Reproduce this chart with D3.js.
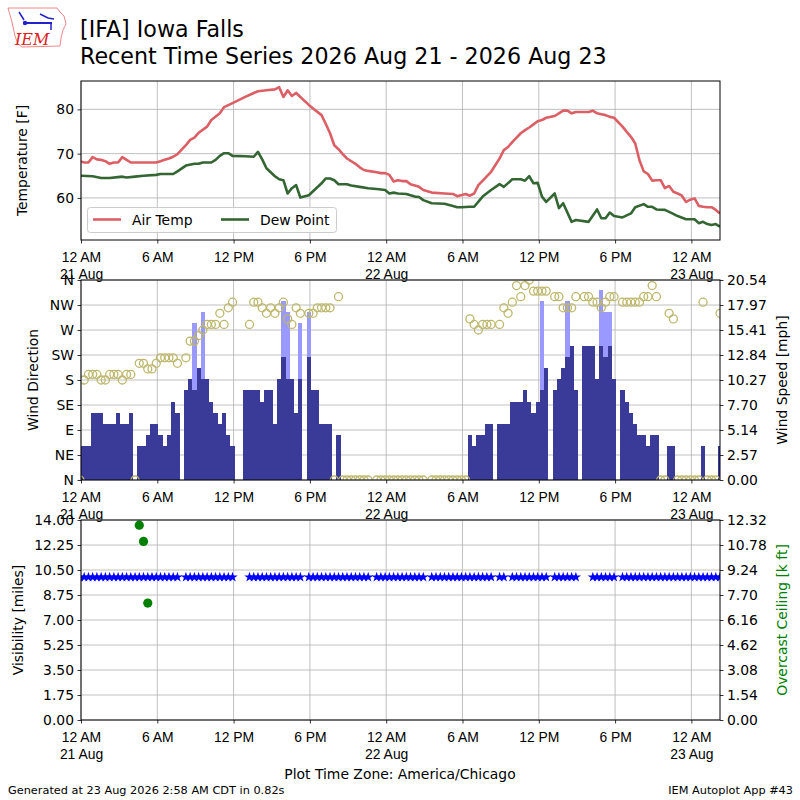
<!DOCTYPE html>
<html>
<head>
<meta charset="utf-8">
<script src="https://cdn.jsdelivr.net/npm/d3@7"></script>
<style>
  body { margin: 0; background: #fff; }
  svg { font-family: "DejaVu Sans", sans-serif; }
</style>
</head>
<body>
<svg id="chart" width="800" height="800"></svg>
<script>
// obs are every 20 minutes starting 23:55 on 20 Aug (index k)
const obsStart = Date.UTC(2026, 7, 20, 23, 55);
const obsStep = 20 * 60000;

// wind speed [kt], null = no report
const windKnots = [
  3, 3, 3, 6, 6, 6, 5, 5, 5, 6, 5, 5,
  6, 0, 3, 3, 4, 5, 5, 4, 3, 4, 7, 6,
  null, 8, 9, 8, 10, 9, 9, 7, 6, 5, 6, 4,
  3, null, null, 8, 8, 8, 8, 7, 8, 8, 5, 9,
  11, 9, 9, 6, 9, null, 11, 8, 8, 5, 5, 5,
  0, 4, 0, 0, 0, 0, 0, 0, 0, null, 0, 0,
  0, 0, 0, 0, 0, 0, 0, 0, 0, 0, null, 0,
  0, 0, 0, 0, 0, 0, 0, 0, 4, 3, 4, 4,
  5, 5, null, 5, 5, 5, 7, 7, 7, 8, 7, 6,
  7, 8, 10, null, 8, 9, 10, 11, 12, 8, null, 12,
  12, 12, 9, 12, 11, 12, 9, null, 8, 7, 6, 5,
  4, 4, 3, 4, 4, 0, 0, 3, 3, 0, 0, 0,
  0, 0, 0, 3, 0, 0, 0, 3
];

// gusts [kt] only where reported
const gustIndex = [27, 29, 48, 49, 52, 54, 109, 115, 123, 124, 125];
const gustKnots = [14, 15, 16, 15, 14, 15, 16, 16, 17, 15, 15];

// wind direction [deg]
const windDir = [
  0, 180, 190, 190, 190, 180, 180, 190, 190, 190, 180, 190,
  190, 0, 210, 210, 200, 200, 210, 220, 220, 220, 220, 210,
  null, 220, 250, 250, 260, 270, 280, 280, 280, 300, 280, 310,
  320, null, null, null, 280, 320, 320, 310, 300, 310, 300, 310,
  320, 290, 280, 310, 300, null, 300, 300, 310, 310, 310, 310,
  0, 330, 0, 0, 0, 0, 0, 0, 0, null, 0, 0,
  0, 0, 0, 0, 0, 0, 0, 0, 0, 0, null, 0,
  0, 0, 0, 0, 0, 0, 0, 0, 290, 280, 270, 280,
  280, 280, null, 280, 310, 300, 320, 350, 330, 350, 360, 340,
  340, 340, 340, null, 330, 330, 310, 310, 310, 330, null, 330,
  330, 320, 320, 310, 320, 330, 330, null, 320, 320, 320, 320,
  320, 330, 330, 350, 330, 0, 0, 300, 290, 0, 0, 0,
  0, 0, 0, 320, 0, 0, 0, 300
];

// visibility [miles]
const visMiles = [
  10, 10, 10, 10, 10, 10, 10, 10, 10, 10, 10, 10,
  10, 10, 10, 10, 10, 10, 10, 10, 10, 10, 10, 10,
  null, 10, 10, 10, 10, 10, 10, 10, 10, 10, 10, 10,
  10, null, null, null, 10, 10, 10, 10, 10, 10, 10, 10,
  10, 10, 10, 10, 10, null, 10, 10, 10, 10, 10, 10,
  10, 10, 10, 10, 10, 10, 10, 10, 10, null, 10, 10,
  10, 10, 10, 10, 10, 10, 10, 10, 10, 10, null, 10,
  10, 10, 10, 10, 10, 10, 10, 10, 10, 10, 10, 10,
  10, 10, null, 10, 10, null, 10, 10, 10, 10, 10, 10,
  10, 10, 10, null, 10, 10, 10, 10, 10, 10, null, null,
  null, 10, 10, 10, 10, 10, 10, null, 10, 10, 10, 10,
  10, 10, 10, 10, 10, 10, 10, 10, 10, 10, 10, 10,
  10, 10, 10, 10, 10, 10, 10, 10
];

// overcast ceiling [k ft]
const ceilIndex = [14, 15, 16];
const ceilKft = [12.0, 11.0, 7.2];

// air temp [F]
const tempIndex = [0, 1, 2, 3, 4, 5, 6, 7, 8, 9, 10, 11, 12, 18, 19, 20, 21, 22, 23, 25, 26, 27, 28, 30, 31, 33, 34, 36,
  39, 41, 42, 44, 46, 47, 48, 49, 50, 51, 52, 54, 55, 57, 58, 59, 60, 61, 62, 63, 65, 66, 67, 68, 70, 71, 72, 73, 74,
  75, 76, 77, 78, 80, 81, 83, 86, 88, 89, 91, 92, 93, 94, 97, 99, 100, 101, 102, 103, 104, 105, 106, 107, 108, 109,
  110, 112, 113, 114, 115, 116, 117, 120, 121, 122, 123, 124, 125, 126, 128, 129, 130, 131, 132, 133, 134, 135, 136,
  137, 138, 139, 140, 141, 142, 143, 144, 145, 146, 147, 148, 149, 150, 151];
const tempF = [68.3, 68.0, 68.0, 69.2, 68.7, 68.6, 68.3, 67.7, 68.0, 68.0, 69.2, 68.6, 68.0, 68.0, 68.3, 68.6, 68.9, 69.3, 69.9, 71.9, 73.1, 73.6, 74.7, 76.1, 77.6, 79.1, 80.5, 81.4,
  82.8, 83.7, 84.1, 84.3, 84.5, 85.0, 82.8, 84.3, 83.0, 83.7, 82.8, 81.0, 80.2, 78.7, 76.7, 74.6, 71.9, 71.0, 69.9, 68.9, 67.7, 66.9, 66.3, 66.1, 65.8, 65.6, 65.6, 65.2, 63.7,
  64.0, 63.8, 63.8, 63.1, 62.5, 61.8, 61.2, 61.0, 60.9, 60.4, 60.9, 60.5, 61.0, 62.9, 65.9, 68.9, 70.8, 71.5, 72.6, 73.6, 74.6, 75.3, 75.9, 76.6, 77.3, 77.6,
  78.1, 78.5, 79.1, 79.7, 79.7, 79.1, 79.4, 79.4, 79.7, 79.1, 78.9, 78.7, 78.3, 78.1, 76.1, 74.9, 73.8, 72.3, 68.5, 66.0, 65.4, 63.9, 64.0,
  64.0, 62.2, 62.7, 61.4, 61.0, 60.5, 59.1, 59.6, 59.9, 58.2, 58.0, 57.9, 57.9, 57.3, 56.5];

// dew point [F]
const dewIndex = [0, 3, 5, 7, 9, 10, 11, 13, 15, 18, 19, 22, 23, 25, 27, 28, 29, 31, 32, 33, 34, 35, 36, 39, 41, 42, 43,
  44, 45, 46, 47, 48, 49, 50, 51, 52, 54, 55, 56, 57, 58, 59, 60, 61, 63, 64, 66, 68, 70, 72, 73, 74, 75, 77, 79, 80,
  81, 83, 86, 88, 89, 90, 92, 93, 95, 97, 99, 100, 102, 104, 105, 106, 107, 108, 109, 110, 112, 113, 114, 116, 117,
  120, 122, 123, 124, 125, 126, 128, 130, 131, 133, 134, 135, 136, 138, 140, 141, 143, 145, 146, 147, 148, 149, 150, 151];
const dewF = [65.0, 64.9, 64.5, 64.5, 64.7, 64.8, 64.6, 64.8, 65.0, 65.2, 65.4, 65.4, 66.0, 67.3, 67.7, 67.7, 68.0, 68.0, 68.6, 69.5, 70.1, 70.1, 69.5, 69.4, 69.3, 70.4, 68.7,
  66.7, 65.8, 64.9, 64.2, 64.0, 61.0, 62.2, 62.9, 60.1, 60.6, 61.5, 62.4, 63.3, 64.4, 64.4, 64.0, 63.1, 63.1, 62.8, 62.5, 62.2, 62.0, 61.8, 61.0, 61.2, 61.0, 60.9, 60.3, 60.2,
  59.5, 58.8, 58.7, 58.2, 57.9, 57.9, 58.0, 58.0, 60.3, 61.8, 63.1, 62.5, 64.2, 64.2, 63.9, 64.9, 63.3, 63.4, 60.3, 59.1, 61.0, 57.7, 58.8, 54.6, 55.0,
  54.6, 57.4, 55.4, 55.4, 56.7, 55.9, 55.6, 56.5, 57.9, 58.6, 58.0, 58.0, 57.4, 57.3, 56.4, 55.9, 55.2, 55.2, 54.3, 54.6, 54.1, 53.9, 54.1, 53.5];

// axis tick labels
const dirTickLabels = ["N", "NE", "E", "SE", "S", "SW", "W", "NW", "N"];
const speedTickLabels = ["0.00", "2.57", "5.14", "7.70", "10.27", "12.84", "15.41", "17.97", "20.54"];
const visTickLabels = ["0.00", "1.75", "3.50", "5.25", "7.00", "8.75", "10.50", "12.25", "14.00"];
const ceilTickLabels = ["0.00", "1.54", "3.08", "4.62", "6.16", "7.70", "9.24", "10.78", "12.32"];
const tempTicks = [60, 70, 80];

const KT2MPH = 1.15078;
const FS = 13.9;

let svg = d3.select("#chart");
svg.append("rect").attr("width", 800).attr("height", 800).attr("fill", "white");

function obsTime(k) { return new Date(obsStart + k * obsStep); }

// shared time scale
let x = d3.scaleUtc()
    .domain([new Date(Date.UTC(2026, 7, 21, 0, 0)), new Date(Date.UTC(2026, 7, 23, 2, 15))])
    .range([81, 720]);
let xTicks = d3.utcHour.every(6).range(x.domain()[0], x.domain()[1]);

// panels
const panels = [
  {name: "temp", top: 81, bottom: 240},
  {name: "wind", top: 280, bottom: 480},
  {name: "vis", top: 520, bottom: 720}
];

let defs = svg.append("defs");
panels.forEach(p => {
  defs.append("clipPath").attr("id", "clip-" + p.name)
    .append("rect").attr("x", 81).attr("y", p.top).attr("width", 639).attr("height", p.bottom - p.top);
});

function hourLabel(d) {
  let h = d.getUTCHours();
  if (h == 0) return "12 AM";
  if (h == 12) return "12 PM";
  return (h % 12) + (h < 12 ? " AM" : " PM");
}

function drawGridX(p) {
  svg.append("g").selectAll("line").data(xTicks).enter().append("line")
    .attr("x1", d => x(d)).attr("x2", d => x(d))
    .attr("y1", p.top).attr("y2", p.bottom)
    .attr("stroke", "#b0b0b0").attr("stroke-width", 0.8);
}

function drawGridY(p, scale, values) {
  svg.append("g").selectAll("line").data(values).enter().append("line")
    .attr("x1", 81).attr("x2", 720)
    .attr("y1", d => scale(d)).attr("y2", d => scale(d))
    .attr("stroke", "#b0b0b0").attr("stroke-width", 0.8);
}

function drawXAxis(p) {
  let g = svg.append("g")
    .attr("transform", "translate(0," + p.bottom + ")")
    .call(d3.axisBottom(x).tickValues(xTicks).tickSize(3.5).tickSizeOuter(0).tickPadding(3.5).tickFormat(""));
  g.select(".domain").remove();
  g.selectAll(".tick line").attr("stroke", "black").attr("stroke-width", 0.8);
  g.selectAll(".tick text").remove();
  let labels = g.selectAll(".tick").append("text")
    .attr("fill", "black").attr("font-size", FS).attr("text-anchor", "middle");
  labels.append("tspan").attr("x", 0).attr("y", 22.3).text(d => hourLabel(d));
  labels.filter(d => d.getUTCHours() == 0).append("tspan")
    .attr("x", 0).attr("y", 38.8).text(d => d3.utcFormat("%-d %b")(d));
}

function drawYAxis(scale, side, values, labels) {
  let axis = side == "left" ? d3.axisLeft(scale) : d3.axisRight(scale);
  axis.tickValues(values).tickSize(3.5).tickSizeOuter(0).tickPadding(3.5)
    .tickFormat((d, i) => labels ? labels[i] : d);
  let g = svg.append("g")
    .attr("transform", "translate(" + (side == "left" ? 81 : 720) + ",0)")
    .call(axis);
  g.select(".domain").remove();
  g.selectAll(".tick line").attr("stroke", "black").attr("stroke-width", 0.8);
  g.selectAll(".tick text").attr("font-size", FS).attr("fill", "black")
    .attr("font-family", "DejaVu Sans");
  return g;
}

function yLabel(text, cx, cy, color) {
  svg.append("text")
    .attr("transform", "translate(" + cx + "," + cy + ") rotate(-90)")
    .attr("text-anchor", "middle").attr("dy", "0.35em")
    .attr("font-size", FS).attr("fill", color || "black")
    .text(text);
}

function drawFrame(p) {
  svg.append("rect").attr("x", 81).attr("y", p.top)
    .attr("width", 639).attr("height", p.bottom - p.top)
    .attr("fill", "none").attr("stroke", "black").attr("stroke-width", 1);
}

// ---------- panel 1: temperature ----------
let p1 = panels[0];
let yTemp = d3.scaleLinear().domain([50.5, 86.4]).range([p1.bottom, p1.top]);
drawGridX(p1);
drawGridY(p1, yTemp, tempTicks);

let line = d3.line().x(d => x(obsTime(d[0]))).y(d => yTemp(d[1]));
let g1 = svg.append("g").attr("clip-path", "url(#clip-temp)");
g1.append("path").datum(tempIndex.map((k, i) => [k, tempF[i]]))
  .attr("d", line).attr("fill", "none").attr("stroke", "#dc5f66").attr("stroke-width", 2.6)
  .attr("stroke-linejoin", "round");
g1.append("path").datum(dewIndex.map((k, i) => [k, dewF[i]]))
  .attr("d", line).attr("fill", "none").attr("stroke", "#336633").attr("stroke-width", 2.6)
  .attr("stroke-linejoin", "round");

drawYAxis(yTemp, "left", tempTicks, null);
yLabel("Temperature [F]", 22.5, 160.5);
drawFrame(p1);
drawXAxis(p1);

// legend
let leg = svg.append("g");
leg.append("rect").attr("x", 87.5).attr("y", 207.5).attr("width", 249).attr("height", 25)
  .attr("rx", 3).attr("fill", "white").attr("fill-opacity", 0.8).attr("stroke", "#cccccc");
const legendItems = [{label: "Air Temp", color: "#dc5f66", x: 93}, {label: "Dew Point", color: "#336633", x: 221}];
legendItems.forEach(it => {
  leg.append("line").attr("x1", it.x).attr("x2", it.x + 28).attr("y1", 219.5).attr("y2", 219.5)
    .attr("stroke", it.color).attr("stroke-width", 2.6);
  leg.append("text").attr("x", it.x + 39).attr("y", 224.5).attr("font-size", FS).text(it.label);
});

// ---------- panel 2: wind ----------
let p2 = panels[1];
let yDir = d3.scaleLinear().domain([0, 360]).range([p2.bottom, p2.top]);
let ySpeed = d3.scaleLinear().domain([0, 20.54]).range([p2.bottom, p2.top]);
let dirTicks = d3.range(0, 361, 45);
drawGridX(p2);
drawGridY(p2, yDir, dirTicks);

let g2 = svg.append("g").attr("clip-path", "url(#clip-wind)");
let halfStep = obsStep / 2;
let barX = k => x(new Date(obsStart + k * obsStep - halfStep));
let barW = k => x(new Date(obsStart + k * obsStep + halfStep)) - barX(k);

let gusts = gustIndex.map((k, i) => ({k: k, v: gustKnots[i] * KT2MPH}));
g2.append("g").attr("shape-rendering", "crispEdges")
  .selectAll("rect").data(gusts).enter().append("rect")
  .attr("x", d => barX(d.k)).attr("width", d => barW(d.k))
  .attr("y", d => ySpeed(d.v)).attr("height", d => p2.bottom - ySpeed(d.v))
  .attr("fill", "#9999ff");

let winds = windKnots.map((v, k) => ({k: k, v: v})).filter(d => d.v !== null && d.v > 0);
g2.append("g").attr("shape-rendering", "crispEdges")
  .selectAll("rect").data(winds).enter().append("rect")
  .attr("x", d => barX(d.k)).attr("width", d => barW(d.k))
  .attr("y", d => ySpeed(d.v * KT2MPH)).attr("height", d => p2.bottom - ySpeed(d.v * KT2MPH))
  .attr("fill", "#3a3a98");

let dirs = windDir.map((v, k) => ({k: k, v: v})).filter(d => d.v !== null);
g2.selectAll("circle").data(dirs).enter().append("circle")
  .attr("cx", d => x(obsTime(d.k))).attr("cy", d => yDir(d.v)).attr("r", 4)
  .attr("fill", "none").attr("stroke", "#bdb76b").attr("stroke-width", 1.3);

drawYAxis(yDir, "left", dirTicks, dirTickLabels);
drawYAxis(ySpeed, "right", d3.range(9).map(i => i * 20.54 / 8), speedTickLabels);
yLabel("Wind Direction", 33, 380);
yLabel("Wind Speed [mph]", 782, 380);
drawFrame(p2);
drawXAxis(p2);

// ---------- panel 3: visibility and ceiling ----------
let p3 = panels[2];
let yVis = d3.scaleLinear().domain([0, 14]).range([p3.bottom, p3.top]);
let yCeil = d3.scaleLinear().domain([0, 12.32]).range([p3.bottom, p3.top]);
let visTicks = d3.range(9).map(i => i * 1.75);
drawGridX(p3);
drawGridY(p3, yVis, visTicks);

let g3 = svg.append("g").attr("clip-path", "url(#clip-vis)");
let star = d3.symbol().type(d3.symbolStar).size(34);
let visPts = visMiles.map((v, k) => ({k: k, v: v})).filter(d => d.v !== null);
g3.selectAll(".star").data(visPts).enter().append("path")
  .attr("d", star)
  .attr("transform", d => "translate(" + x(obsTime(d.k)) + "," + yVis(d.v) + ")")
  .attr("fill", "#0000ff");
g3.selectAll(".ceil").data(ceilIndex.map((k, i) => ({k: k, v: ceilKft[i]}))).enter().append("circle")
  .attr("cx", d => x(obsTime(d.k))).attr("cy", d => yCeil(d.v)).attr("r", 4.6)
  .attr("fill", "#008000");

drawYAxis(yVis, "left", visTicks, visTickLabels);
drawYAxis(yCeil, "right", d3.range(9).map(i => i * 1.54), ceilTickLabels);
yLabel("Visibility [miles]", 18, 620);
yLabel("Overcast Ceiling [k ft]", 782, 620, "#008000");
drawFrame(p3);
drawXAxis(p3);

// ---------- titles and footer ----------
svg.append("text").attr("x", 80).attr("y", 37).attr("font-size", 22.2).text("[IFA] Iowa Falls");
svg.append("text").attr("x", 80).attr("y", 64).attr("font-size", 22.2)
  .text("Recent Time Series 2026 Aug 21 - 2026 Aug 23");
svg.append("text").attr("x", 400).attr("y", 779).attr("font-size", FS).attr("text-anchor", "middle")
  .text("Plot Time Zone: America/Chicago");
svg.append("text").attr("x", 8).attr("y", 794).attr("font-size", 11.3)
  .text("Generated at 23 Aug 2026 2:58 AM CDT in 0.82s");
svg.append("text").attr("x", 793).attr("y", 794).attr("font-size", 11.3).attr("text-anchor", "end")
  .text("IEM Autoplot App #43");

// IEM logo (rough)
let logo = svg.append("g");
logo.append("path")
  .attr("d", "M8,8 L57,8 L60,12 L64,16 L66,24 L63,30 L61,38 L60,46 L22,47 L18,44 L15,36 L12,22 Z")
  .attr("fill", "none").attr("stroke", "#ee8888").attr("stroke-width", 1);
logo.append("line").attr("x1", 24).attr("x2", 52).attr("y1", 23).attr("y2", 23)
  .attr("stroke", "#2222cc").attr("stroke-width", 2);
logo.append("circle").attr("cx", 25).attr("cy", 23).attr("r", 2.2).attr("fill", "#2222cc");
logo.append("path").attr("d", "M19,12 L24,20 M40,14 L48,18 L54,19 M51,23 L51,30")
  .attr("fill", "none").attr("stroke", "#2222cc").attr("stroke-width", 1.5);
logo.append("text").attr("x", 15).attr("y", 45).attr("font-size", 16)
  .attr("font-family", "DejaVu Serif").attr("font-style", "italic").attr("fill", "#dd2222").text("IEM");
</script>
</body>
</html>
